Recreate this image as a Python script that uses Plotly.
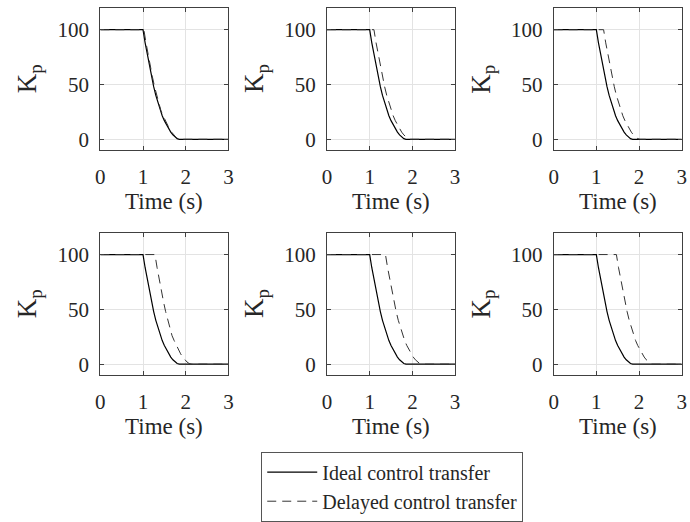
import plotly.graph_objects as go

# ---- data ----
time_ideal = [0.0, 1.0, 1.05, 1.1, 1.15, 1.2, 1.25, 1.3, 1.35, 1.4, 1.45, 1.5,
              1.55, 1.6, 1.65, 1.7, 1.75, 1.8, 1.85, 3.0]
kp_ideal = [100, 100, 88, 77, 67, 57, 48, 40, 33, 26, 21.5, 17,
            13, 9.5, 6.5, 4, 2, 0.6, 0, 0]
# transfer delay (s) of the delayed curve in each panel
delays = [0.02, 0.10, 0.17, 0.28, 0.37, 0.47]

x_ticks = [0, 1, 2, 3]
y_ticks = [0, 50, 100]

W, H = 690, 522
FONT = "Times New Roman, Liberation Serif, DejaVu Serif, serif"
FS = 20

col_px = [(96.7, 226.7), (326.7, 456.7), (556.7, 686.7)]
row_px = [(8, 155), (240, 387)]

fig = go.Figure()
layout = {}
annotations = []
for i, d in enumerate(delays):
    r, c = divmod(i, 3)
    n = i + 1
    xa = "x" if n == 1 else f"x{n}"
    ya = "y" if n == 1 else f"y{n}"
    t_del = [time_ideal[0]] + [t + d for t in time_ideal[1:-1]] + [time_ideal[-1]]
    fig.add_trace(go.Scatter(x=time_ideal, y=kp_ideal, mode="lines",
                             line=dict(color="black", width=1.2),
                             name="Ideal control transfer", showlegend=(i == 0),
                             xaxis=xa, yaxis=ya))
    fig.add_trace(go.Scatter(x=t_del, y=kp_ideal, mode="lines",
                             line=dict(color="#333333", width=1, dash="9px,6px"),
                             name="Delayed control transfer", showlegend=(i == 0),
                             xaxis=xa, yaxis=ya))
    x0, x1 = col_px[c]
    y0, y1 = row_px[r]
    common = dict(showline=True, linecolor="#404040", linewidth=1, mirror="ticks",
                  ticks="inside", ticklen=4, tickcolor="#404040",
                  showgrid=True, gridcolor="#e3e3e3", gridwidth=1, zeroline=False,
                  tickfont=dict(family=FONT, size=21, color="#262626"))
    layout["xaxis" if n == 1 else f"xaxis{n}"] = dict(
        domain=[x0 / W, x1 / W], range=[0, 3], tickvals=x_ticks,
        anchor=ya, ticklabelstandoff=8, **common)
    layout["yaxis" if n == 1 else f"yaxis{n}"] = dict(
        domain=[1 - y1 / H, 1 - y0 / H], range=[-10, 120], tickvals=y_ticks,
        anchor=xa, ticklabelstandoff=6, **common)
    annotations.append(dict(text="Time (s)", xref="paper", yref="paper",
                            x=(x0 + x1) / 2 / W, y=1 - (y1 + 53) / H,
                            xanchor="center", yanchor="middle", showarrow=False,
                            font=dict(family=FONT, size=23, color="#262626")))
    annotations.append(dict(text="K<sub>p</sub>", xref="paper", yref="paper",
                            x=(x0 - 72) / W, y=1 - ((y0 + y1) / 2) / H,
                            xanchor="center", yanchor="middle", showarrow=False,
                            textangle=-90,
                            font=dict(family=FONT, size=27, color="#262626")))

fig.update_layout(
    width=W, height=H, margin=dict(l=0, r=0, t=0, b=0),
    paper_bgcolor="white", plot_bgcolor="white",
    font=dict(family=FONT, size=FS, color="#262626"),
    annotations=annotations,
    legend=dict(x=260 / W, y=1 - 466 / H, xanchor="left", yanchor="top",
                bordercolor="#555555", borderwidth=1, bgcolor="white",
                font=dict(family=FONT, size=FS, color="#262626"),
                itemwidth=50, tracegroupgap=0),
    **layout,
)
fig.write_html("out.html")
